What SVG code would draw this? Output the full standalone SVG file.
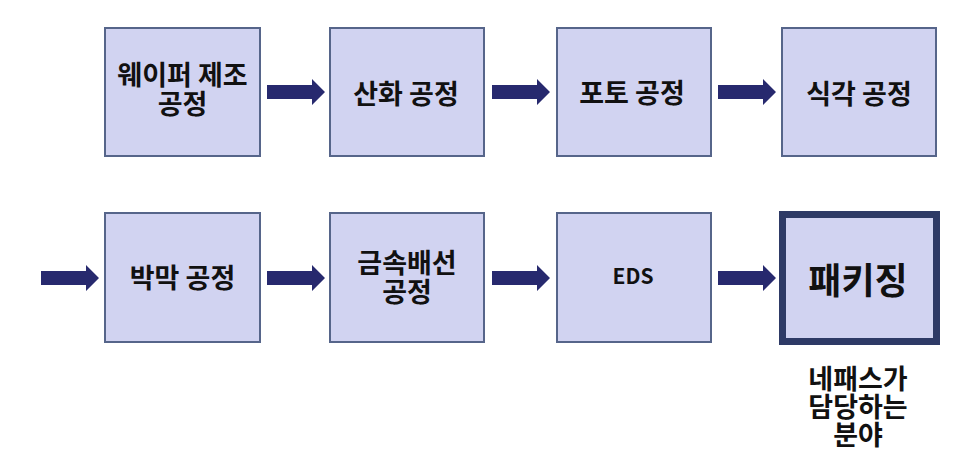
<svg xmlns="http://www.w3.org/2000/svg" width="960" height="473" viewBox="0 0 960 473">
<style>
.box{fill:#D1D3F1;stroke:#56658A;stroke-width:2}
.pk{fill:#D1D3F1;stroke:#2E3A66;stroke-width:7}
.t{font-family:"Noto Sans CJK KR","Noto Sans",sans-serif;font-weight:bold;font-size:27px;fill:#111;text-anchor:middle;dominant-baseline:central}
.arrow{fill:#27296E}
</style>
<defs>
<path id="arr" d="M0,-7 H45 V-13 L58,0 L45,13 V7 H0 Z"/>
</defs>
<rect width="960" height="473" fill="#fff"/>
<g id="connectors">
<use href="#arr" class="arrow" x="267" y="92"/>
<use href="#arr" class="arrow" x="492" y="92"/>
<use href="#arr" class="arrow" x="718" y="92"/>
<use href="#arr" class="arrow" x="41" y="278"/>
<use href="#arr" class="arrow" x="267" y="278"/>
<use href="#arr" class="arrow" x="492" y="278"/>
<use href="#arr" class="arrow" x="718" y="278"/>
</g>
<g id="n1"><rect class="box" x="105" y="28" width="155" height="128"/><text class="t"><tspan x="182.5" y="72.5">웨이퍼 제조</tspan><tspan x="182.5" y="101.5">공정</tspan></text></g>
<g id="n2"><rect class="box" x="330" y="28" width="154" height="128"/><text class="t" x="406" y="92">산화 공정</text></g>
<g id="n3"><rect class="box" x="557" y="28" width="154" height="128"/><text class="t" x="632" y="91">포토 공정</text></g>
<g id="n4"><rect class="box" x="782" y="28" width="154" height="128"/><text class="t" x="859" y="92">식각 공정</text></g>
<g id="n5"><rect class="box" x="105" y="213" width="155" height="129"/><text class="t" x="182.5" y="276">박막 공정</text></g>
<g id="n6"><rect class="box" x="330" y="213" width="154" height="129"/><text class="t"><tspan x="407" y="261">금속배선</tspan><tspan x="407" y="290">공정</tspan></text></g>
<g id="n7"><rect class="box" x="557" y="213" width="154" height="129"/><text class="t" x="633" y="275" style="font-size:21px">EDS</text></g>
<g id="n8"><rect class="pk" x="782.5" y="214.5" width="154" height="127"/><text class="t" x="858" y="278" style="font-size:36px">패키징</text></g>
<g id="note"><text class="t"><tspan x="858" y="377">네패스가</tspan><tspan x="858" y="405">담당하는</tspan><tspan x="858" y="433">분야</tspan></text></g>
</svg>
